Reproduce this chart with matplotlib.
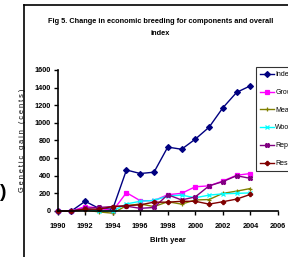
import numpy as np
import matplotlib.pyplot as plt
from matplotlib.lines import Line2D

# === Data ===
years = list(range(1990, 2005))
index = [0, 0, 110, 30, 20, 465, 425, 440, 725, 700, 815, 950, 1170, 1345, 1420]
growth = [0, 0, 50, 35, 0, 208, 117, 117, 185, 200, 275, 285, 340, 405, 425]
meat = [0, 0, 10, -10, -25, 60, 80, 50, 105, 78, 125, 130, 200, 225, 255]
wool = [0, 0, 20, 0, 0, 80, 110, 120, 170, 180, 150, 180, 195, 200, 205]
repro = [0, 0, 30, 40, 50, 55, 30, 40, 185, 125, 160, 285, 333, 400, 370]
resis = [0, 0, 20, 20, 50, 60, 70, 100, 100, 110, 110, 78, 105, 135, 188]

series = [
    ("Index", index, "#000080", "D"),
    ("Growth", growth, "#FF00FF", "s"),
    ("Meat", meat, "#808000", "+"),
    ("Wool", wool, "#00FFFF", "x"),
    ("Reproduction", repro, "#800080", "X"),
    ("Resistance", resis, "#800000", "P"),
]

plt.rcParams["font.family"] = ["Liberation Sans", "DejaVu Sans"]

fig = plt.figure(figsize=(2.88, 2.57), dpi=100)
ax = fig.add_axes([0.2, 0.179, 0.765, 0.549])

for name, vals, col, mk in series:
    ax.plot(years, vals, color=col, marker=mk, markersize=3, lw=1.0,
            label=name, clip_on=False, markeredgewidth=0.9)

ax.set_xlim(1990, 2006)
ax.set_ylim(0, 1600)
ax.set_xticks(np.arange(1990, 2007, 2))
ax.set_yticks(np.arange(0, 1601, 200))
ax.tick_params(axis="both", direction="out", length=3, width=1, labelsize=5.3, pad=2)
for lbl in ax.get_xticklabels() + ax.get_yticklabels():
    lbl.set_fontweight("bold")
ax.xaxis.set_tick_params(pad=6)
for s in ["top", "right"]:
    ax.spines[s].set_visible(False)
for s in ["left", "bottom"]:
    ax.spines[s].set_linewidth(1.2)

ax.set_xlabel("Birth year", fontsize=5.5, fontweight="bold", labelpad=5)
ax.set_ylabel("G e n e t i c   g a i n   ( c e n t s )", fontsize=5.3, labelpad=6)

fig.text(0.557, 0.893, "Fig 5. Change in economic breeding for components and overall\nindex",
         ha="center", va="center", fontsize=5.3, fontweight="bold", linespacing=2.0)

leg = ax.legend(loc="upper left", bbox_to_anchor=(256 / 288, 1 - 67 / 257),
                bbox_transform=fig.transFigure, fontsize=5.0, frameon=True,
                fancybox=False, edgecolor="black", borderpad=0.6,
                labelspacing=1.55, handlelength=2.0, handletextpad=0.2,
                borderaxespad=0)
leg.get_frame().set_linewidth(0.8)

# outer chart frame (cropped on right and bottom)
fig.add_artist(Line2D([0.083, 0.083], [0.0, 0.98], color="black", lw=1.2))
fig.add_artist(Line2D([0.083, 1.0], [0.98, 0.98], color="black", lw=1.2))
fig.text(0.0, 0.25, ")", fontsize=14, fontweight="bold", ha="left", va="center")

fig.savefig("out.png", dpi=100)
